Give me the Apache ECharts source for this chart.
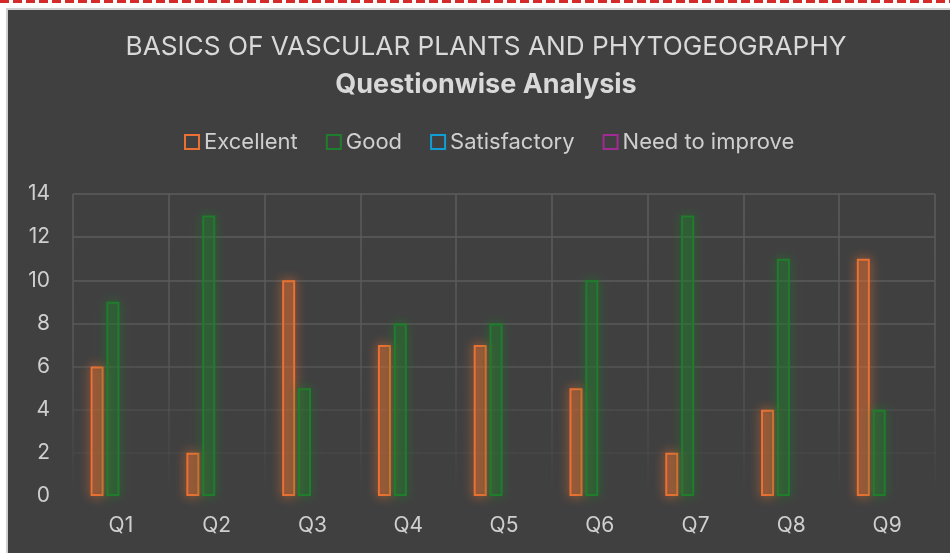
<!DOCTYPE html>
<html>
<head>
<meta charset="utf-8">
<title>Questionwise Analysis</title>
<script src="https://cdn.jsdelivr.net/npm/echarts@6/dist/echarts.min.js"></script>
<style>
    html, body { margin: 0; padding: 0; background: #fff; }
    #dash {
        position: absolute; left: 0; top: 0; width: 950px; height: 3px;
        background: repeating-linear-gradient(90deg, #d42a2a 0 9px, transparent 9px 13px);
    }
    #frame {
        position: absolute; left: 6px; top: 8px; width: 942px; height: 543px;
        background: #404040; border-left: 2px solid #cfcfcf; border-top: 2px solid #cfcfcf;
    }
    #bar { position: absolute; left: 0; top: 0; width: 950px; height: 553px; }
</style>
</head>
<body>
<div id="dash"></div>
<div id="frame"></div>
<div id="bar"></div>
<script>
var questions = ['Q1', 'Q2', 'Q3', 'Q4', 'Q5', 'Q6', 'Q7', 'Q8', 'Q9'];
var excellent = [6, 2, 10, 7, 7, 5, 2, 4, 11];
var good = [9, 13, 5, 8, 8, 10, 13, 11, 4];
var satisfactory = [0, 0, 0, 0, 0, 0, 0, 0, 0];
var needImprove = [0, 0, 0, 0, 0, 0, 0, 0, 0];
var legendNames = ['Excellent', 'Good', 'Satisfactory', 'Need to improve'];

(function () {
    var font = 'Inter';
    var txt = '#cfcfcf';
    var colors = ['#E97132', '#1F7D2C', '#0F9ED5', '#A02B93'];

    //空心柱 + 发光
    function hollow(name, data, color, fill) {
        return {
            name: name,
            type: 'bar',
            data: data,
            barWidth: 13,
            barGap: '22%',
            itemStyle: {
                color: fill,
                borderColor: color,
                borderWidth: 2,
                shadowColor: color,
                shadowBlur: 11
            }
        };
    }

    function barEcharts() {
        var myChart = echarts.init(document.getElementById('bar'));
        var option = {
            backgroundColor: 'transparent',
            title: [{
                text: 'BASICS OF VASCULAR PLANTS AND PHYTOGEOGRAPHY',
                left: 481,
                top: 29,
                textAlign: 'center',
                textStyle: { color: '#d9d9d9', fontSize: 26.2, fontWeight: 'normal', fontFamily: font }
            }, {
                text: 'Questionwise Analysis',
                left: 481,
                top: 66,
                textAlign: 'center',
                textStyle: { color: '#d9d9d9', fontSize: 27, fontWeight: 'bold', fontFamily: font }
            }],
            legend: {
                left: 179,
                top: 126,
                icon: 'rect',
                itemWidth: 14,
                itemHeight: 14,
                itemGap: 28,
                textStyle: { color: txt, fontSize: 22, fontFamily: font }
            },
            grid: {
                left: 73,
                right: 15,
                top: 194,
                bottom: 57,
                outerBoundsMode: 'none'
            },
            xAxis: {
                type: 'category',
                data: questions,
                axisLine: { show: false },
                axisTick: { show: false },
                axisLabel: { color: txt, fontSize: 21, fontFamily: font, margin: 19 },
                splitLine: {
                    show: true,
                    interval: 0,
                    lineStyle: {
                        width: 1.5,
                        color: new echarts.graphic.LinearGradient(0, 0, 0, 1, [
                            { offset: 0, color: '#5c5c5c' },
                            { offset: 0.5, color: '#585858' },
                            { offset: 1, color: 'rgba(88,88,88,0)' }
                        ])
                    }
                }
            },
            yAxis: {
                type: 'value',
                min: 0,
                max: 14,
                interval: 2,
                axisLine: { show: false },
                axisTick: { show: false },
                axisLabel: { color: txt, fontSize: 21, fontFamily: font, margin: 23 },
                splitLine: {
                    lineStyle: {
                        width: 1.5,
                        color: ['rgba(0,0,0,0)', '#474747', '#4d4d4d', '#555555', '#595959', '#5b5b5b', '#5c5c5c', '#5c5c5c']
                    }
                }
            },
            series: [
                hollow('Excellent', excellent, colors[0], 'rgba(233,113,50,0.28)'),
                hollow('Good', good, colors[1], 'rgba(31,125,44,0.25)'),
                hollow('Satisfactory', satisfactory, colors[2], 'rgba(15,158,213,0.25)'),
                hollow('Need to improve', needImprove, colors[3], 'rgba(160,43,147,0.25)')
            ]
        };
        // 0 值的系列不画边框
        option.series[2].itemStyle.borderWidth = 0;
        option.series[3].itemStyle.borderWidth = 0;
        option.legend.data = legendNames.map(function (n, i) {
            return {
                name: n,
                itemStyle: { color: 'rgba(0,0,0,0)', borderColor: colors[i], borderWidth: 2, shadowBlur: 0 }
            };
        });
        myChart.setOption(option);
        window.onresize = function () {
            myChart.resize();
        };
    }

    barEcharts();
})();
</script>
</body>
</html>
